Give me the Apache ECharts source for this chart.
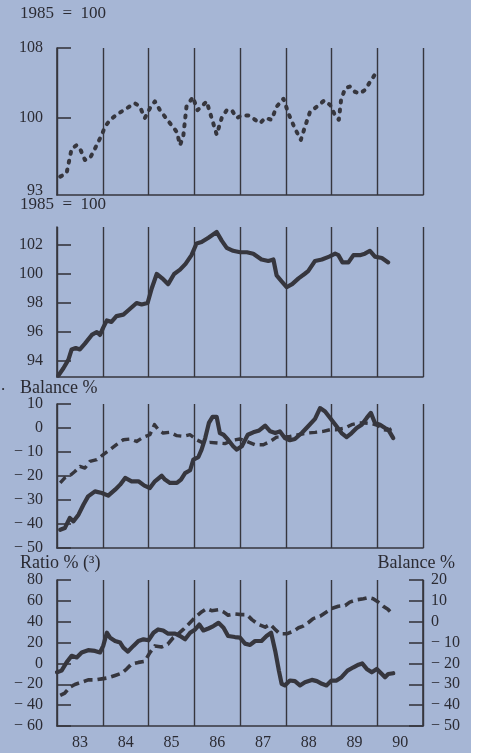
<!DOCTYPE html>
<html>
<head>
<meta charset="utf-8">
<script src="https://cdn.jsdelivr.net/npm/echarts@6/dist/echarts.min.js"></script>
<style>
html,body{margin:0;padding:0;background:#ffffff;}
#chart{width:479px;height:753px;}
</style>
</head>
<body>
<div id="chart"></div>
<script>
// ---------- DATA ----------
const yearLabels = ['83','84','85','86','87','88','89','90'];
const yearLabelPos = [1983.5,1984.5,1985.5,1986.5,1987.5,1988.5,1989.5,1990.5];

// Panel 1 (1985 = 100), dashed
const p1Years = [1983.07,1983.21,1983.32,1983.43,1983.52,1983.61,1983.72,1983.83,1983.98,
  1984.05,1984.16,1984.34,1984.52,1984.70,1984.81,1984.92,
  1985.03,1985.14,1985.25,1985.47,1985.62,1985.69,1985.76,1985.83,1985.97,
  1986.07,1986.16,1986.27,1986.38,1986.49,1986.60,1986.71,1986.82,1986.93,
  1987.04,1987.18,1987.33,1987.44,1987.55,1987.69,1987.80,1987.95,
  1988.06,1988.20,1988.33,1988.42,1988.53,1988.68,1988.84,1988.97,
  1989.06,1989.16,1989.21,1989.30,1989.40,1989.51,1989.62,1989.73,1989.84,1989.94];
const p1Vals = [93.3,93.7,96.5,96.9,96.3,95.2,95.4,96.5,98.1,
  99.0,99.8,100.5,101.1,101.7,101.3,100.0,
  101.1,101.9,100.9,99.4,98.4,96.9,97.9,101.3,102.4,
  100.9,101.3,101.9,100.0,98.1,100.0,100.9,100.9,100.0,
  100.3,100.3,99.8,99.4,100.0,99.8,101.3,102.2,
  100.5,98.8,97.5,99.0,100.7,101.3,102.0,101.5,
  100.5,99.8,102.1,103.4,103.6,103.0,102.8,103.2,104.1,104.9];
const p1TickVals = [100,108];
const p1LabelPos = [91.7,100,108];
const p1LabelText = ['93','100','108'];

// Panel 2 (1985 = 100), solid
const p2Years = [1983.03,1983.14,1983.25,1983.32,1983.41,1983.50,1983.61,1983.76,1983.87,1983.94,
  1984.01,1984.09,1984.19,1984.30,1984.45,1984.56,1984.74,1984.85,1984.98,
  1985.07,1985.18,1985.30,1985.43,1985.56,1985.69,1985.81,1985.94,
  1986.05,1986.16,1986.31,1986.49,1986.60,1986.71,1986.85,
  1987.00,1987.15,1987.29,1987.47,1987.62,1987.73,1987.80,1987.91,
  1988.02,1988.14,1988.28,1988.41,1988.49,1988.64,1988.79,1988.95,
  1989.08,1989.15,1989.24,1989.37,1989.48,1989.62,1989.73,1989.84,1989.95,
  1990.10,1990.24];
const p2Vals = [93.0,93.5,94.1,94.8,94.9,94.8,95.2,95.8,96.0,95.8,
  96.3,96.8,96.7,97.1,97.2,97.5,98.0,97.9,98.0,
  99.0,100.0,99.7,99.3,100.0,100.3,100.7,101.3,
  102.1,102.2,102.5,102.9,102.3,101.8,101.6,
  101.5,101.5,101.4,101.0,100.9,101.0,99.9,99.5,
  99.1,99.3,99.7,100.0,100.2,100.9,101.0,101.2,
  101.4,101.3,100.8,100.8,101.3,101.3,101.4,101.6,101.2,
  101.1,100.8];
const p2TickVals = [94,96,98,100,102];

// Panel 3 (Balance %), solid and dashed
const p3SolidYears = [1983.07,1983.17,1983.28,1983.36,1983.47,1983.58,1983.68,1983.83,1983.98,
  1984.12,1984.27,1984.38,1984.49,1984.63,1984.78,1984.91,
  1985.03,1985.14,1985.29,1985.36,1985.47,1985.62,1985.71,1985.80,1985.91,1985.98,
  1986.09,1986.16,1986.24,1986.32,1986.40,1986.49,1986.56,1986.64,1986.74,1986.85,1986.93,
  1987.04,1987.17,1987.29,1987.42,1987.55,1987.66,1987.77,1987.87,1987.98,
  1988.09,1988.20,1988.35,1988.49,1988.64,1988.75,1988.86,1988.97,
  1989.11,1989.22,1989.33,1989.44,1989.55,1989.66,1989.77,1989.86,1989.95,
  1990.06,1990.17,1990.24,1990.35];
const p3SolidVals = [-42.4,-41.7,-37.5,-38.9,-36.1,-31.9,-28.5,-26.4,-27.1,
  -28.2,-25.7,-23.6,-20.8,-22.2,-22.2,-24.0,
  -25.0,-22.2,-19.9,-21.5,-22.9,-22.9,-21.5,-18.8,-17.6,-13.2,
  -12.1,-9.0,-4.2,2.1,4.6,4.6,-2.1,-2.8,-4.9,-7.6,-9.0,
  -7.6,-2.8,-1.8,-1.0,1.0,-1.4,-2.1,-1.4,-4.2,
  -5.1,-4.6,-2.1,0.7,3.8,8.3,6.9,4.2,
  0.7,-2.1,-3.8,-2.1,0.0,1.4,4.2,6.3,2.1,
  1.4,0.0,-0.7,-4.2];
const p3DashYears = [1983.07,1983.17,1983.28,1983.39,1983.50,1983.61,1983.72,1983.87,
  1984.01,1984.16,1984.30,1984.45,1984.60,1984.74,1984.89,
  1985.03,1985.13,1985.21,1985.32,1985.47,1985.62,1985.76,1985.91,
  1986.05,1986.20,1986.34,1986.53,1986.67,1986.85,
  1987.00,1987.15,1987.33,1987.51,1987.66,1987.80,1987.95,
  1988.09,1988.28,1988.46,1988.64,1988.82,1988.97,
  1989.11,1989.30,1989.44,1989.59,1989.73,1989.88,
  1990.02,1990.13,1990.24,1990.35];
const p3DashVals = [-22.9,-20.8,-19.9,-18.1,-16.0,-16.7,-13.9,-13.2,
  -11.1,-9.0,-6.9,-4.9,-4.6,-5.6,-3.8,
  -2.8,1.4,-0.6,-2.1,-1.8,-3.2,-3.5,-2.8,
  -4.9,-6.3,-6.0,-6.3,-6.5,-5.1,
  -4.6,-5.6,-7.0,-7.0,-5.6,-3.8,-3.8,
  -3.5,-2.8,-2.1,-1.8,-1.4,-0.7,
  -0.7,0.0,1.4,2.1,2.1,1.8,
  1.0,-0.7,-1.0,0.0];

// Panel 4: Ratio % (left, solid) and Balance % (right, dashed)
const p4SolidYears = [1983.00,1983.10,1983.21,1983.32,1983.43,1983.54,1983.68,1983.83,1983.94,
  1984.01,1984.09,1984.16,1984.27,1984.38,1984.45,1984.55,1984.67,1984.78,1984.89,
  1985.00,1985.11,1985.21,1985.32,1985.43,1985.58,1985.69,1985.80,1985.91,
  1986.02,1986.11,1986.20,1986.31,1986.42,1986.53,1986.64,1986.74,1986.89,
  1987.00,1987.11,1987.22,1987.33,1987.47,1987.58,1987.68,1987.77,1987.85,1987.91,1987.98,
  1988.09,1988.20,1988.31,1988.42,1988.57,1988.68,1988.79,1988.89,
  1989.00,1989.11,1989.22,1989.35,1989.48,1989.59,1989.67,1989.77,1989.88,1989.99,
  1990.10,1990.17,1990.24,1990.35];
const p4SolidVals = [-8.5,-6.9,1.0,7.3,5.7,10.5,12.7,12.0,10.5,
  16.8,29.4,24.7,21.5,20.0,15.2,11.4,16.8,21.5,23.1,
  22.2,29.4,32.6,31.6,28.5,28.5,26.3,23.1,29.4,
  32.6,37.3,31.6,33.5,35.8,38.9,34.2,26.3,25.3,
  24.7,19.0,17.7,21.5,21.5,26.3,29.4,12.0,-6.9,-19.5,-21.1,
  -16.4,-17.0,-21.1,-18.0,-15.8,-17.0,-19.5,-21.1,
  -16.4,-16.4,-13.2,-6.9,-3.7,-1.2,0.0,-5.3,-8.5,-5.3,
  -10.1,-13.2,-10.1,-9.4];
const p4DashYears = [1983.07,1983.17,1983.28,1983.39,1983.54,1983.68,1983.83,1983.98,
  1984.12,1984.27,1984.41,1984.52,1984.63,1984.78,1984.92,
  1985.03,1985.14,1985.29,1985.42,1985.54,1985.65,1985.76,1985.87,
  1986.02,1986.16,1986.27,1986.38,1986.53,1986.64,1986.74,1986.89,
  1987.04,1987.15,1987.26,1987.40,1987.55,1987.66,1987.77,1987.87,
  1988.02,1988.17,1988.28,1988.38,1988.49,1988.60,1988.75,1988.89,
  1989.00,1989.15,1989.30,1989.40,1989.55,1989.70,1989.81,1989.91,
  1990.02,1990.13,1990.24,1990.35];
const p4DashVals = [-35.3,-34.2,-31.4,-30.1,-29.0,-27.9,-27.9,-27.4,
  -26.9,-25.8,-24.7,-22.7,-20.3,-19.5,-19.0,
  -14.8,-11.6,-12.1,-10.8,-7.7,-5.8,-3.7,-1.3,
  2.1,4.7,6.3,5.3,5.8,4.7,3.1,3.7,
  3.4,3.4,1.0,-1.3,-2.6,-1.3,-3.7,-5.8,
  -5.8,-4.5,-2.9,-2.1,-0.5,1.5,2.6,4.7,
  6.3,7.4,7.8,9.4,10.5,11.0,11.6,11.0,
  9.4,7.4,5.8,3.4];

// ---------- STYLE ----------
const BG = '#a6b6d5';
const LC = '#36363e';
const TC = '#2b2b33';
const FONT = 'Liberation Serif';
const FS = 16;

function pairs(xs, ys){ return xs.map((x,i)=>[x, ys[i]]); }
function minusFmt(v){ return v < 0 ? '\u2212 ' + Math.abs(v) : String(v); }

const grids = [
  {left:57, width:366, top:48, height:147},
  {left:57, width:366, top:227, height:150},
  {left:57, width:366, top:404, height:144},
  {left:57, width:366, top:580, height:146}
].map(g => Object.assign({outerBoundsMode:'none', containLabel:false}, g));

const xAxes = grids.map((g,i) => ({
  type:'value', gridIndex:i, min:1983, max:1991, interval:1,
  axisLine:{show:true, onZero:false, lineStyle:{color:LC, width:1.6}},
  axisTick:{show:false},
  axisLabel:{show:i===3, customValues:yearLabelPos, margin:9,
    color:TC, fontFamily:FONT, fontSize:FS,
    formatter:(v)=>yearLabels[yearLabelPos.indexOf(v)] || ''},
  splitLine:{show:true, showMinLine:true, showMaxLine:true, lineStyle:{color:LC, width:1.4}}
}));

function yBase(extra){
  return Object.assign({
    type:'value',
    axisLine:{show:true, onZero:false, lineStyle:{color:LC, width:1.6}},
    axisTick:{show:true, inside:true, length:14, lineStyle:{color:LC, width:1.6}},
    axisLabel:{color:TC, fontFamily:FONT, fontSize:FS, margin:14, formatter:minusFmt},
    splitLine:{show:false}
  }, extra);
}

const yAxes = [
  yBase({gridIndex:0, min:91.2, max:108,
    axisTick:{show:true, inside:true, length:14, customValues:p1TickVals, lineStyle:{color:LC, width:1.6}},
    axisLabel:{color:TC, fontFamily:FONT, fontSize:FS, margin:14, customValues:p1LabelPos,
      formatter:(v)=>p1LabelText[p1LabelPos.indexOf(v)] || ''}}),
  yBase({gridIndex:1, min:92.9, max:103.24,
    axisTick:{show:true, inside:true, length:14, customValues:p2TickVals, lineStyle:{color:LC, width:1.6}},
    axisLabel:{color:TC, fontFamily:FONT, fontSize:FS, margin:14, customValues:p2TickVals}}),
  yBase({gridIndex:2, min:-50, max:10, interval:10}),
  yBase({gridIndex:3, min:-60, max:80, interval:20}),
  yBase({gridIndex:3, min:-50, max:20, interval:10, position:'right',
    axisLabel:{color:TC, fontFamily:FONT, fontSize:FS, margin:8, formatter:minusFmt}})
];

function line(xi, yi, data, width, dash, cap){
  return {
    type:'line', xAxisIndex:xi, yAxisIndex:yi, data:data,
    showSymbol:false, symbol:'none', smooth:false, silent:true,
    lineStyle:{color:LC, width:width, type:dash || 'solid', cap:cap || 'round', join:'round'},
    z:5
  };
}

const series = [
  line(0, 0, pairs(p1Years, p1Vals), 4, [2, 7], 'round'),
  line(1, 1, pairs(p2Years, p2Vals), 4.2),
  line(2, 2, pairs(p3DashYears, p3DashVals), 3.4, [8, 5], 'butt'),
  line(2, 2, pairs(p3SolidYears, p3SolidVals), 4.2),
  line(3, 4, pairs(p4DashYears, p4DashVals), 3.6, [9, 5], 'butt'),
  line(3, 3, pairs(p4SolidYears, p4SolidVals), 4.2)
];

function txt(text, x, y, size, align){
  return {type:'text', x:x, y:y, silent:true, z:10,
    style:{text:text, fill:TC, font: size + 'px "' + FONT + '"',
      textAlign:align || 'left', textVerticalAlign:'middle', verticalAlign:'middle'}};
}

const chart = echarts.init(document.getElementById('chart'), null, {renderer:'canvas', width:479, height:753});
chart.setOption({
  animation:false,
  backgroundColor:'#ffffff',
  grid:grids,
  xAxis:xAxes,
  yAxis:yAxes,
  series:series,
  graphic:[
    {type:'rect', shape:{x:0, y:0, width:471, height:753}, style:{fill:BG}, z:-10, silent:true},
    txt('1985  =  100', 20, 14, 17),
    txt('1985  =  100', 20, 205, 17),
    txt('.', 1, 386, 17),
    txt('Balance %', 20, 388, 18),
    txt('Ratio % (\u00B3)', 20, 563, 18),
    txt('Balance %', 455, 563, 18, 'right')
  ]
});
</script>
</body>
</html>
